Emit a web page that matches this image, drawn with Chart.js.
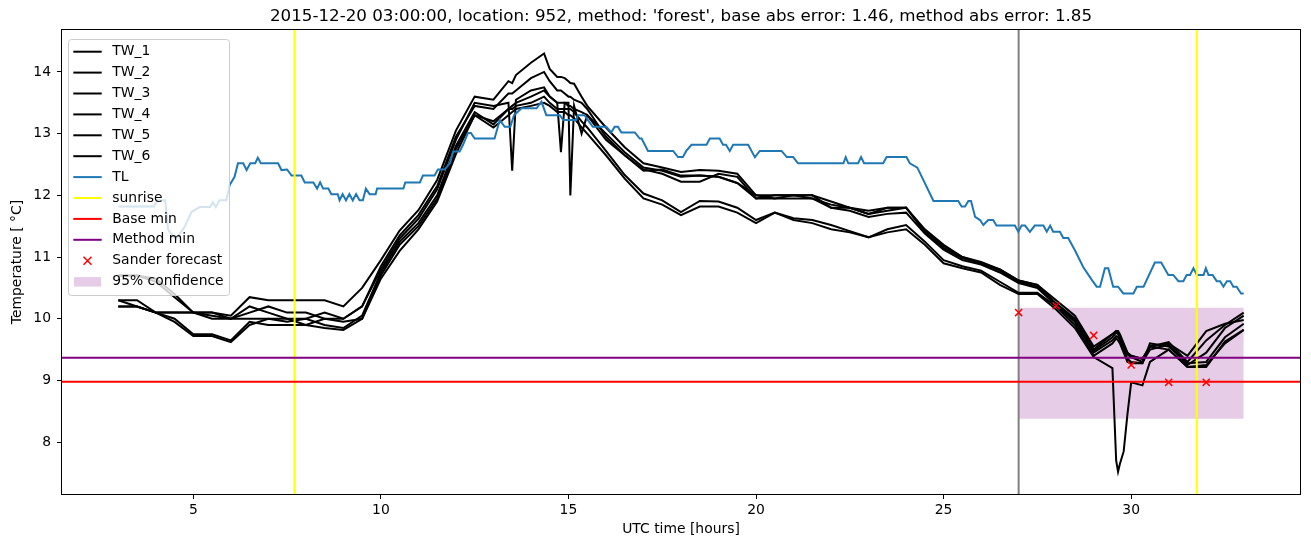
<!DOCTYPE html>
<html>
<head>
<meta charset="utf-8">
<script src="https://cdn.jsdelivr.net/npm/chart.js@4.4.1/dist/chart.umd.min.js"></script>
<style>
  body { margin: 0; background: #fff; }
  canvas { display: block; }
</style>
</head>
<body>
<canvas id="chart" width="1311" height="547"></canvas>
<script>
// time axis shared by the six wall temperature sensors (hours UTC)
const hours = [3, 3.5, 4, 4.5, 5, 5.5, 6, 6.5, 7, 7.5, 8, 8.5, 9, 9.5,
    10, 10.5, 11, 11.5, 12, 12.5, 13,
    13.4, 13.5, 13.6, 14, 14.35, 14.5, 14.7, 14.8, 14.9, 15, 15.05, 15.15, 15.35, 15.5,
    16, 16.5, 17, 17.5, 18, 18.5,
    19, 19.5, 20, 20.5, 21, 21.5, 22, 22.5, 23, 23.5, 24,
    24.5, 25, 25.5, 26, 26.5, 27, 27.5, 28, 28.5, 29, 29.5,
    29.6, 29.65, 29.7, 29.8, 29.9, 30, 30.3, 30.5, 31, 31.5, 32, 32.5, 33];

const tw1 = [10.7, 10.7, 10.65, 10.4, 10.1, 10.1, 10.05, 10.35, 10.3, 10.3, 10.3, 10.3, 10.2, 10.5,
    10.95, 11.43, 11.76, 12.25, 13.05, 13.6, 13.55,
    13.85, 13.82, 13.95, 14.15, 14.3, 14.05, 13.92, 13.92, 13.9, 13.85, 13.82, 13.81, 13.6, 13.45,
    13.1, 12.78, 12.52, 12.45, 12.38, 12.41,
    12.4, 12.35, 12.0, 12.0, 12.0, 12.0, 11.9, 11.8, 11.75, 11.8, 11.8,
    11.45, 11.2, 11.0, 10.92, 10.8, 10.62, 10.55, 10.25, 10.0, 9.5, 9.75,
    9.8, 9.8, 9.75, 9.6, 9.45, 9.4, 9.35, 9.55, 9.62, 9.3, 9.65, 9.9, 10.1];
const tw2 = [10.7, 10.7, 10.6, 10.35, 10.1, 10.1, 10.0, 10.1, 10.2, 10.1, 10.1, 10.0, 10.0, 10.2,
    10.8, 11.3, 11.62, 12.1, 12.9, 13.5, 13.45,
    13.5, 12.4, 13.55, 13.7, 13.75, 13.6, 13.5, 12.7, 13.5, 13.5, 12.0, 13.45, 13.0, 13.3,
    13.0, 12.7, 12.45, 12.4, 12.3, 12.32,
    12.3, 12.2, 12.0, 11.95, 12.0, 11.95, 11.85, 11.8, 11.7, 11.75, 11.8,
    11.4, 11.15, 10.98, 10.9, 10.78, 10.6, 10.52, 10.22, 9.98, 9.48, 9.7,
    9.78, 9.75, 9.7, 9.55, 9.42, 9.38, 9.3, 9.5, 9.58, 9.25, 9.45, 9.85, 10.05];
const tw3 = [10.3, 10.3, 10.1, 10.1, 10.1, 10.05, 10.0, 10.2, 10.1, 10.0, 10.0, 10.1, 10.0, 10.2,
    10.85, 11.35, 11.68, 12.15, 12.95, 13.45, 13.4,
    13.65, 13.65, 13.7, 13.9, 14.0, 13.85, 13.7, 13.7, 13.65, 13.6, 13.6, 13.55, 13.5, 13.4,
    12.95, 12.65, 12.42, 12.35, 12.22, 12.22,
    12.35, 12.3, 11.95, 12.0, 12.0, 12.0, 11.8, 11.8, 11.7, 11.8, 11.8,
    11.42, 11.18, 11.0, 10.9, 10.8, 10.62, 10.55, 10.3, 10.05, 9.55, 9.75,
    9.8, 9.78, 9.72, 9.58, 9.45, 9.4, 9.35, 9.55, 9.6, 9.4, 9.8, 9.92, 9.98];
const tw4 = [10.2, 10.2, 10.1, 10.0, 9.75, 9.75, 9.65, 9.95, 9.9, 9.9, 9.9, 9.85, 9.82, 10.0,
    10.7, 11.2, 11.5, 11.95, 12.75, 13.3, 13.2,
    13.4, 13.45, 13.5, 13.6, 13.7, 13.6, 13.5, 13.5, 13.5, 13.45, 13.45, 13.4, 13.35, 13.3,
    12.9, 12.65, 12.4, 12.42, 12.32, 12.32,
    12.3, 12.2, 11.95, 11.95, 11.95, 11.95, 11.8, 11.75, 11.65, 11.7, 11.72,
    11.38, 11.12, 10.95, 10.88, 10.75, 10.58, 10.5, 10.22, 9.95, 9.45, 9.65,
    9.72, 9.7, 9.65, 9.5, 9.35, 9.3, 9.28, 9.6, 9.55, 9.28, 9.3, 9.7, 9.92];
const tw5 = [10.2, 10.2, 10.1, 9.95, 9.72, 9.72, 9.62, 9.9, 10.0, 9.95, 10.0, 9.9, 9.85, 10.05,
    10.75, 11.25, 11.55, 12.0, 12.8, 13.35, 13.15,
    13.4, 13.4, 13.45, 13.5, 13.6, 13.5, 13.4, 13.4, 13.4, 13.4, 13.4, 13.35, 13.2, 13.1,
    12.72, 12.33, 12.03, 11.92, 11.73, 11.91,
    11.9, 11.8, 11.6, 11.72, 11.63, 11.6, 11.52, 11.42, 11.32, 11.45, 11.52,
    11.25, 10.95, 10.85, 10.78, 10.6, 10.42, 10.42, 10.2, 9.9, 9.4, 9.6,
    9.68, 9.65, 9.6, 9.45, 9.3, 9.28, 9.28, 9.55, 9.5, 9.22, 9.25, 9.6, 9.82];
const tw6 = [10.3, 10.2, 10.1, 10.1, 10.1, 10.0, 10.0, 10.0, 10.0, 10.0, 9.9, 10.0, 9.95, 10.0,
    10.65, 11.1, 11.45, 11.9, 12.67, 13.3, 13.1,
    13.3, 13.35, 13.4, 13.45, 13.5, 13.45, 13.35, 13.35, 13.35, 13.3, 13.3, 13.25, 13.1, 13.0,
    12.65, 12.27, 11.95, 11.85, 11.68, 11.82,
    11.82, 11.72, 11.55, 11.72, 11.6, 11.55, 11.45, 11.4, 11.32, 11.4, 11.45,
    11.2, 10.9, 10.82, 10.75, 10.55, 10.4, 10.4, 10.15, 9.85, 9.38, 9.2,
    7.7, 7.52, 7.65, 7.85, 8.45, 8.97, 8.92, 9.3, 9.5, 9.22, 9.22, 9.63, 9.82];

// air temperature has its own sampling
const hoursTL = [3.0, 3.95, 4.05, 4.25, 4.33, 4.45, 4.55, 4.77, 4.95, 5.17,
    5.45, 5.52, 5.6, 5.7, 5.88, 5.97, 6.1, 6.19, 6.33, 6.42,
    6.52, 6.65, 6.72, 6.8, 7.26, 7.35, 7.5, 7.62, 7.88, 7.97,
    8.2, 8.3, 8.38, 8.46, 8.6, 8.68, 8.85, 8.9, 8.98, 9.07,
    9.16, 9.25, 9.34, 9.43, 9.52, 9.6, 9.7, 9.86, 9.9, 10.6,
    10.65, 11.04, 11.12, 11.43, 11.52, 11.7, 11.84, 11.93, 12.1, 12.19,
    12.32, 12.4, 12.5, 13.03, 13.17, 13.3, 13.45, 13.55, 13.75, 14.15,
    14.28, 14.41, 14.77, 14.86, 15.21, 15.25, 15.43, 15.52, 15.65, 16.01,
    16.14, 16.23, 16.32, 16.41, 16.77, 16.9, 16.95, 17.12, 17.79, 17.92,
    18.05, 18.14, 18.28, 18.68, 18.77, 19.03, 19.12, 19.2, 19.3, 19.39,
    19.79, 19.97, 20.1, 20.68, 20.82, 20.99, 21.12, 22.33, 22.39, 22.46,
    22.72, 22.8, 22.88, 23.39, 23.48, 24.01, 24.1, 24.3, 24.73, 25.39,
    25.48, 25.57, 25.66, 25.73, 25.84, 25.97, 26.06, 26.19, 26.32, 26.41,
    26.9, 26.99, 27.08, 27.17, 27.3, 27.43, 27.66, 27.75, 27.84, 27.92,
    28.1, 28.19, 28.32, 28.5, 28.72, 28.95, 29.08, 29.17, 29.3, 29.39,
    29.52, 29.65, 29.79, 30.06, 30.15, 30.33, 30.63, 30.8, 30.99, 31.12,
    31.26, 31.39, 31.48, 31.57, 31.66, 31.75, 31.93, 31.99, 32.06, 32.17,
    32.28, 32.37, 32.46, 32.55, 32.64, 32.72, 32.81, 32.93, 33.0];
const tl = [11.82, 11.82, 11.92, 11.92, 11.44, 11.35, 11.30, 11.49, 11.73, 11.81,
    11.81, 11.89, 11.81, 11.92, 11.92, 12.17, 12.30, 12.52, 12.52, 12.41,
    12.52, 12.52, 12.61, 12.52, 12.52, 12.41, 12.42, 12.32, 12.32, 12.21,
    12.21, 12.11, 12.21, 12.11, 12.11, 12.02, 12.02, 11.92, 12.02, 11.92,
    12.02, 11.92, 12.02, 11.92, 11.92, 12.11, 12.02, 12.02, 12.11, 12.11,
    12.21, 12.21, 12.32, 12.32, 12.42, 12.42, 12.52, 12.71, 12.71, 12.82,
    13.01, 13.01, 12.92, 12.92, 13.22, 13.11, 13.11, 13.30, 13.41, 13.41,
    13.52, 13.30, 13.30, 13.22, 13.22, 13.30, 13.30, 13.22, 13.11, 13.11,
    13.02, 13.11, 13.11, 13.02, 13.02, 12.92, 12.92, 12.72, 12.72, 12.62,
    12.62, 12.72, 12.82, 12.82, 12.92, 12.92, 12.82, 12.82, 12.72, 12.82,
    12.82, 12.62, 12.72, 12.72, 12.62, 12.62, 12.52, 12.52, 12.62, 12.52,
    12.52, 12.62, 12.52, 12.52, 12.62, 12.62, 12.52, 12.45, 11.91, 11.91,
    11.82, 11.82, 11.91, 11.91, 11.65, 11.60, 11.52, 11.60, 11.60, 11.51,
    11.51, 11.41, 11.51, 11.51, 11.41, 11.51, 11.51, 11.41, 11.51, 11.41,
    11.41, 11.31, 11.31, 11.11, 10.84, 10.63, 10.52, 10.52, 10.82, 10.82,
    10.52, 10.52, 10.41, 10.41, 10.52, 10.52, 10.91, 10.91, 10.71, 10.71,
    10.61, 10.61, 10.71, 10.71, 10.82, 10.71, 10.71, 10.82, 10.71, 10.71,
    10.61, 10.61, 10.52, 10.61, 10.61, 10.52, 10.52, 10.41, 10.41];

const sunriseHours = [7.7, 31.75];
const forecastHour = 27;
const baseMin = 8.98;
const methodMin = 9.37;
const sanderHours = [27, 28, 29, 30, 31, 32];
const sanderValues = [10.1, 10.21, 9.73, 9.25, 8.97, 8.97];
const confHours = [27, 33];
const confLow = 8.38;
const confHigh = 10.18;

const xTicks = [5, 10, 15, 20, 25, 30];
const yTicks = [8, 9, 10, 11, 12, 13, 14];
const xMin = 1.5, xMax = 34.5, yMin = 7.16, yMax = 14.68;

const FONT = 'DejaVu Sans';
const titleText = "2015-12-20 03:00:00, location: 952, method: 'forest', base abs error: 1.46, method abs error: 1.85";

function pts(xs, ys) {
    return xs.map((x, i) => ({x: x, y: ys[i]}));
}

function lineSet(label, xs, ys, color) {
    return {label: label, data: pts(xs, ys), borderColor: color, backgroundColor: color,
            borderWidth: 2, pointRadius: 0, tension: 0, fill: false, legendType: 'line'};
}

const datasets = [
    {data: [{x: forecastHour, y: yMin}, {x: forecastHour, y: yMax}], borderColor: '#808080',
     borderWidth: 2, pointRadius: 0, fill: false},
    lineSet('TW_1', hours, tw1, '#000000'),
    lineSet('TW_2', hours, tw2, '#000000'),
    lineSet('TW_3', hours, tw3, '#000000'),
    lineSet('TW_4', hours, tw4, '#000000'),
    lineSet('TW_5', hours, tw5, '#000000'),
    lineSet('TW_6', hours, tw6, '#000000'),
    lineSet('TL', hoursTL, tl, '#1f77b4'),
    lineSet('sunrise', [sunriseHours[0], sunriseHours[0]], [yMin, yMax], '#ffff00'),
    {data: [{x: sunriseHours[1], y: yMin}, {x: sunriseHours[1], y: yMax}], borderColor: '#ffff00',
     borderWidth: 2, pointRadius: 0, fill: false},
    lineSet('Base min', [xMin, xMax], [baseMin, baseMin], '#ff0000'),
    lineSet('Method min', [xMin, xMax], [methodMin, methodMin], '#800080'),
    {label: 'Sander forecast', data: pts(sanderHours, sanderValues), showLine: false,
     pointStyle: 'crossRot', pointRadius: 5, borderColor: '#ff0000', borderWidth: 1.5,
     backgroundColor: '#ff0000', legendType: 'marker'},
    {label: '95% confidence', data: pts(confHours, [confHigh, confHigh]), borderWidth: 0,
     pointRadius: 0, backgroundColor: 'rgba(128,0,128,0.2)', fill: {value: confLow},
     legendType: 'patch'}
];

// matplotlib draws later artists on top, the filled band goes underneath
datasets.forEach((d, i) => { d.order = -i; });
datasets[datasets.length - 1].order = 100;

const framePlugin = {
    id: 'frame',
    afterDatasetsDraw(chart) {
        const {ctx, chartArea: a} = chart;
        ctx.save();
        ctx.strokeStyle = '#000';
        ctx.lineWidth = 1;
        ctx.strokeRect(Math.round(a.left) - 0.5, Math.round(a.top) - 0.5,
                       Math.round(a.right - a.left) + 1, Math.round(a.bottom - a.top) + 1);
        ctx.fillStyle = '#000';
        ctx.font = '16.7px "' + FONT + '"';
        ctx.textAlign = 'center';
        ctx.textBaseline = 'middle';
        ctx.fillText(titleText, (a.left + a.right) / 2, 17);
        ctx.restore();
    }
};

const legendPlugin = {
    id: 'mplLegend',
    afterDraw(chart) {
        const ctx = chart.ctx;
        const items = chart.data.datasets.filter(d => d.label);
        const bx = 68.5, by = 39.5, bw = 161, bh = 256, r = 3;
        ctx.save();
        ctx.beginPath();
        ctx.moveTo(bx + r, by);
        ctx.arcTo(bx + bw, by, bx + bw, by + bh, r);
        ctx.arcTo(bx + bw, by + bh, bx, by + bh, r);
        ctx.arcTo(bx, by + bh, bx, by, r);
        ctx.arcTo(bx, by, bx + bw, by, r);
        ctx.closePath();
        ctx.fillStyle = 'rgba(255,255,255,0.8)';
        ctx.fill();
        ctx.strokeStyle = '#cccccc';
        ctx.lineWidth = 1;
        ctx.stroke();

        ctx.font = '13.9px "' + FONT + '"';
        ctx.textBaseline = 'middle';
        ctx.textAlign = 'left';
        items.forEach((d, i) => {
            const y = 51.7 + i * 20.9;
            if (d.legendType === 'line') {
                ctx.strokeStyle = d.borderColor;
                ctx.lineWidth = 2;
                ctx.beginPath();
                ctx.moveTo(73.3, y);
                ctx.lineTo(101.7, y);
                ctx.stroke();
            } else if (d.legendType === 'marker') {
                ctx.strokeStyle = d.borderColor;
                ctx.lineWidth = 1.5;
                ctx.beginPath();
                ctx.moveTo(87.5 - 4, y - 4);
                ctx.lineTo(87.5 + 4, y + 4);
                ctx.moveTo(87.5 - 4, y + 4);
                ctx.lineTo(87.5 + 4, y - 4);
                ctx.stroke();
            } else {
                ctx.fillStyle = d.backgroundColor;
                ctx.fillRect(74, y - 4.5, 27, 9.5);
            }
            ctx.fillStyle = '#000';
            ctx.fillText(d.label, 112.3, y);
        });
        ctx.restore();
    }
};

const tickFont = {family: FONT, size: 13.9};

new Chart(document.getElementById('chart').getContext('2d'), {
    type: 'line',
    data: {datasets: datasets},
    options: {
        responsive: false,
        animation: false,
        devicePixelRatio: 1,
        layout: {padding: {left: 0, top: 30, right: 11, bottom: 0}},
        plugins: {legend: {display: false}, tooltip: {enabled: false}, title: {display: false}},
        scales: {
            x: {
                type: 'linear', min: xMin, max: xMax,
                afterBuildTicks: s => { s.ticks = xTicks.map(v => ({value: v})); },
                afterFit: s => { s.height = 53; },
                grid: {drawOnChartArea: false, drawTicks: true, tickLength: 5, color: '#000', lineWidth: 1},
                border: {display: false},
                ticks: {color: '#000', font: tickFont, padding: 3, maxRotation: 0, autoSkip: false,
                        callback: v => String(v)},
                title: {display: true, text: 'UTC time [hours]', color: '#000', font: tickFont,
                        padding: {top: 0, bottom: 9.7}}
            },
            y: {
                type: 'linear', min: yMin, max: yMax,
                afterBuildTicks: s => { s.ticks = yTicks.map(v => ({value: v})); },
                afterFit: s => { s.width = 62; },
                grid: {drawOnChartArea: false, drawTicks: true, tickLength: 5, color: '#000', lineWidth: 1},
                border: {display: false},
                ticks: {color: '#000', font: tickFont, padding: 6, autoSkip: false,
                        callback: v => String(v)},
                title: {display: true, text: 'Temperature [ \u00b0C]', color: '#000', font: tickFont,
                        padding: {top: 9.2, bottom: 0}}
            }
        }
    },
    plugins: [framePlugin, legendPlugin]
});
</script>
</body>
</html>
